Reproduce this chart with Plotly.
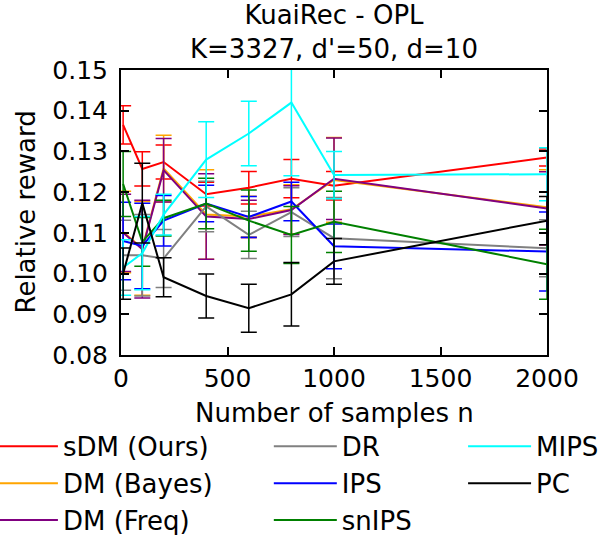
import plotly.graph_objects as go

n_samples = [10, 100, 200, 400, 600, 800, 1000, 2000]

sdm = [0.1365, 0.1257, 0.1274, 0.1195, 0.1211, 0.1233, 0.1216, 0.1285]
sdm_err = [0.0047, 0.0042, 0.0042, 0.0029, 0.0040, 0.0047, 0.0035, 0.0021]

dm_bayes = [0.1102, 0.1062, 0.1258, 0.1145, 0.1140, 0.1158, 0.1230, 0.1163]
dm_bayes_err = [0.0100, 0.0115, 0.0082, 0.0110, 0.0050, 0.0060, 0.0104, 0.0092]

dm_freq = [0.1100, 0.1060, 0.1254, 0.1140, 0.1134, 0.1156, 0.1233, 0.1160]
dm_freq_err = [0.0095, 0.0120, 0.0078, 0.0105, 0.0046, 0.0060, 0.0100, 0.0090]

dr = [0.1045, 0.1045, 0.1037, 0.1165, 0.1095, 0.1151, 0.1087, 0.1062]
dr_err = [0.0086, 0.0100, 0.0071, 0.0062, 0.0058, 0.0060, 0.0100, 0.0070]

ips = [0.1080, 0.1068, 0.1130, 0.1172, 0.1139, 0.1177, 0.1067, 0.1054]
ips_err = [0.0095, 0.0105, 0.0062, 0.0045, 0.0050, 0.0047, 0.0055, 0.0097]

snips = [0.1220, 0.1078, 0.1136, 0.1172, 0.1130, 0.1095, 0.1127, 0.1023]
snips_err = [0.0080, 0.0060, 0.0044, 0.0062, 0.0075, 0.0070, 0.0075, 0.0086]

mips = [0.1015, 0.1050, 0.1145, 0.1280, 0.1344, 0.1420, 0.1242, 0.1244]
mips_err = [0.0068, 0.0090, 0.0050, 0.0093, 0.0079, 0.0180, 0.0058, 0.0065]

pc = [0.1000, 0.1173, 0.0991, 0.0945, 0.0915, 0.0949, 0.1030, 0.1130]
pc_err = [0.0063, 0.0098, 0.0048, 0.0054, 0.0059, 0.0078, 0.0056, 0.0059]

series = [
    ("sDM (Ours)", sdm, sdm_err, "#ff0000", "legend"),
    ("DM (Bayes)", dm_bayes, dm_bayes_err, "#ffa500", "legend"),
    ("DM (Freq)", dm_freq, dm_freq_err, "#800080", "legend"),
    ("DR", dr, dr_err, "#808080", "legend2"),
    ("IPS", ips, ips_err, "#0000ff", "legend2"),
    ("snIPS", snips, snips_err, "#008000", "legend2"),
    ("MIPS", mips, mips_err, "#00ffff", "legend3"),
    ("PC", pc, pc_err, "#000000", "legend3"),
]

FONT = "DejaVu Sans"
TXT = 26
fig = go.Figure()
for name, vals, errs, color, leg in series:
    fig.add_trace(go.Scatter(
        x=n_samples, y=vals, name=name, mode="lines",
        line=dict(color=color, width=2),
        error_y=dict(type="data", array=errs, color=color, thickness=1.5, width=8),
        legend=leg, legendgroup=name,
    ))

axis_common = dict(
    showline=True, linecolor="black", linewidth=2, mirror="ticks",
    ticks="inside", ticklen=8, tickwidth=1.5, tickcolor="black",
    showgrid=False, zeroline=False, automargin=False,
    tickfont=dict(family=FONT, size=25, color="black"),
)

leg_common = dict(
    orientation="v", yanchor="top", xanchor="left",
    font=dict(family=FONT, size=TXT, color="black"),
    bgcolor="rgba(0,0,0,0)", itemwidth=63, tracegroupgap=0,
)

fig.update_layout(
    width=600, height=535,
    margin=dict(l=121, r=53, t=70, b=180, autoexpand=False),
    plot_bgcolor="white", paper_bgcolor="white",
    font=dict(family=FONT, size=TXT, color="black"),
    xaxis=dict(range=[0, 2000], tickvals=[0, 500, 1000, 1500, 2000], ticklabelstandoff=0, **axis_common),
    yaxis=dict(range=[0.08, 0.15], dtick=0.01, tickformat=".2f", ticklabelstandoff=6, **axis_common),
    legend=dict(x=-0.3077, y=-0.2384, **leg_common),
    legend2=dict(x=0.347, y=-0.2384, **leg_common),
    legend3=dict(x=0.803, y=-0.2384, **leg_common),
    annotations=[
        dict(text="KuaiRec - OPL<br>K=3327, d'=50, d=10", xref="paper", yref="paper", x=0.5, y=1,
             xanchor="center", yanchor="middle", yshift=38, showarrow=False,
             font=dict(family=FONT, size=TXT)),
        dict(text="Number of samples n", xref="paper", yref="paper", x=0.5, y=0,
             xanchor="center", yanchor="middle", yshift=-58, showarrow=False,
             font=dict(family=FONT, size=TXT)),
        dict(text="Relative reward", xref="paper", yref="paper", x=0, y=0.5,
             xanchor="center", yanchor="middle", xshift=-96, textangle=-90,
             showarrow=False, font=dict(family=FONT, size=TXT)),
    ],
)

fig.write_html("out.html", config={"displayModeBar": False},
               post_script="document.body.style.margin='0';document.body.style.padding='0';")
